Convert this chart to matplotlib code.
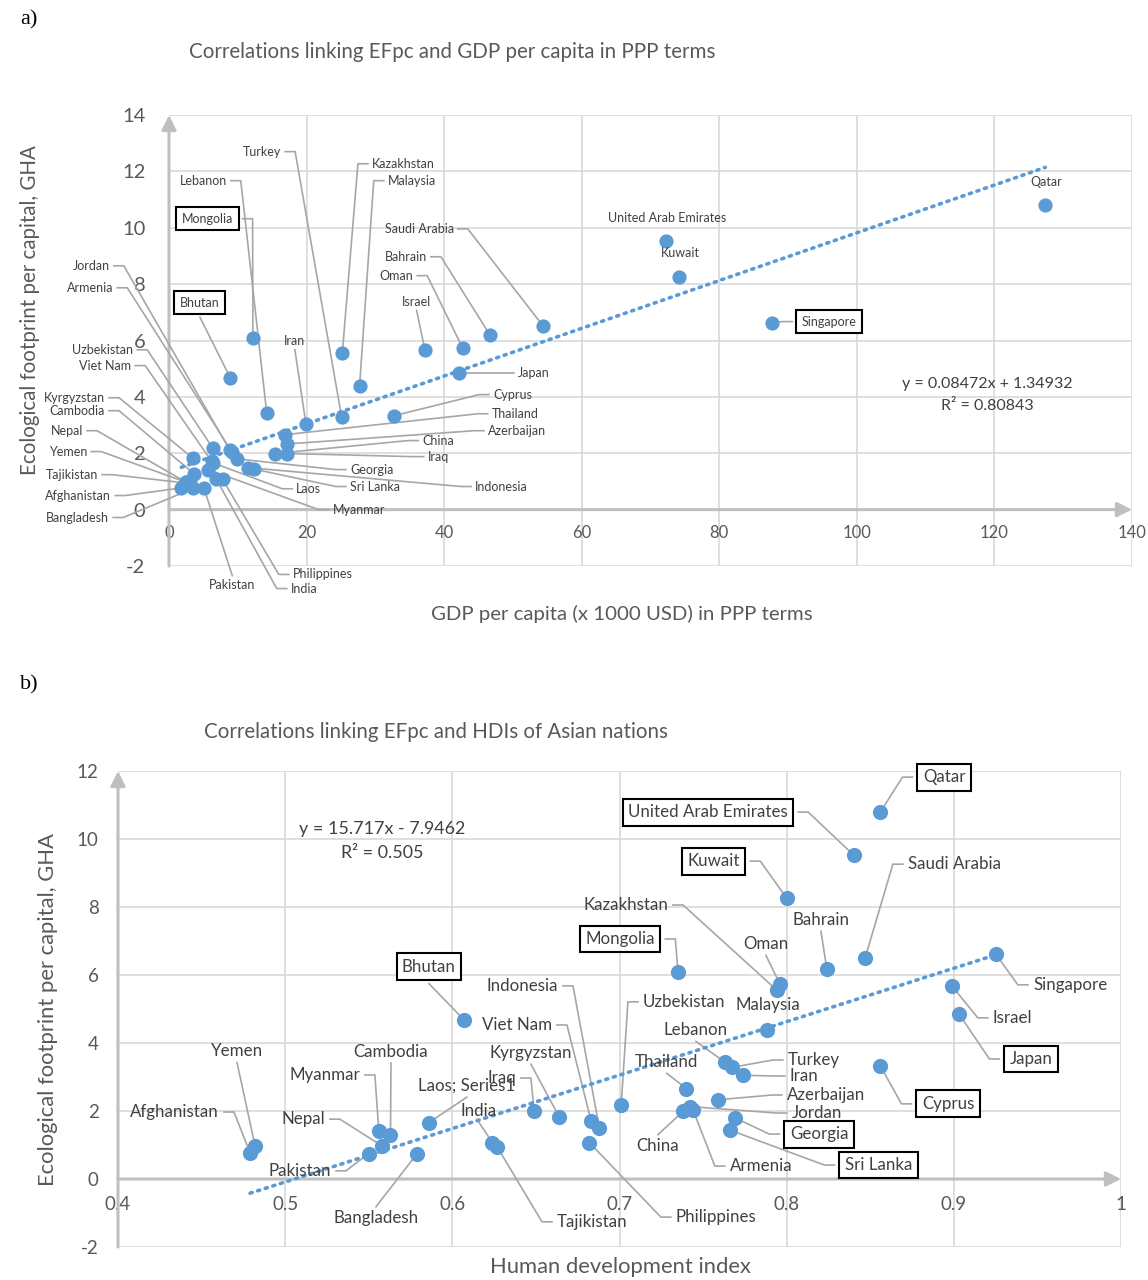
import matplotlib
matplotlib.use("Agg")
import matplotlib.pyplot as plt
import numpy as np

plt.rcParams["font.family"] = ["Lato", "DejaVu Sans"]
plt.rcParams["axes.unicode_minus"] = False

# Data (EF in GHA per capita, GDP in 1000 USD PPP, HDI)
countries = [
    "Afghanistan", "Armenia", "Azerbaijan", "Bahrain", "Bangladesh", "Bhutan",
    "Cambodia", "China", "Cyprus", "Georgia", "India", "Indonesia", "Iran",
    "Iraq", "Israel", "Japan", "Jordan", "Kazakhstan", "Kuwait", "Kyrgyzstan",
    "Laos", "Lebanon", "Malaysia", "Mongolia", "Myanmar", "Nepal", "Oman",
    "Pakistan", "Philippines", "Qatar", "Saudi Arabia", "Singapore",
    "Sri Lanka", "Tajikistan", "Thailand", "Turkey", "United Arab Emirates",
    "Uzbekistan", "Viet Nam", "Yemen",
]
ef_gha = [
    0.77, 2.03, 2.33, 6.18, 0.75, 4.68,
    1.28, 1.99, 3.33, 1.80, 1.07, 1.49, 3.05,
    1.99, 5.67, 4.86, 2.13, 5.56, 8.26, 1.82,
    1.66, 3.44, 4.37, 6.08, 1.42, 0.97, 5.73,
    0.75, 1.07, 10.79, 6.51, 6.62,
    1.44, 0.93, 2.66, 3.28, 9.53,
    2.17, 1.71, 0.97,
]
gdp_ppp = [
    1.8, 9.2, 17.2, 46.7, 3.5, 8.9,
    3.6, 15.4, 32.7, 9.9, 6.9, 11.5, 19.9,
    17.2, 37.2, 42.2, 8.8, 25.2, 74.2, 3.5,
    6.4, 14.2, 27.7, 12.2, 5.7, 2.5, 42.7,
    5.1, 7.8, 127.4, 54.4, 87.7,
    12.3, 3.0, 16.9, 25.1, 72.3,
    6.4, 6.2, 2.5,
]
hdi = [
    0.479, 0.744, 0.759, 0.824, 0.579, 0.607,
    0.563, 0.738, 0.856, 0.769, 0.624, 0.688, 0.774,
    0.649, 0.899, 0.903, 0.742, 0.794, 0.800, 0.664,
    0.586, 0.763, 0.788, 0.735, 0.556, 0.558, 0.796,
    0.550, 0.682, 0.856, 0.847, 0.925,
    0.766, 0.627, 0.740, 0.767, 0.840,
    0.701, 0.683, 0.482,
]

fit_gdp = (0.08472, 1.34932)
fit_hdi = (15.717, -7.9462)

# label layout: name -> (x, y, align, boxed, leader line)
labels_a = {
    "Jordan": (-8.6, 8.65, "right", False, True),
    "Armenia": (-8.1, 7.87, "right", False, True),
    "Uzbekistan": (-5.2, 5.67, "right", False, True),
    "Viet Nam": (-5.5, 5.11, "right", False, True),
    "Kyrgyzstan": (-9.3, 3.97, "right", False, True),
    "Cambodia": (-9.3, 3.51, "right", False, True),
    "Nepal": (-12.5, 2.80, "right", False, True),
    "Yemen": (-11.9, 2.06, "right", False, True),
    "Tajikistan": (-10.3, 1.24, "right", False, True),
    "Afghanistan": (-8.4, 0.50, "right", False, True),
    "Bangladesh": (-8.7, -0.28, "right", False, True),
    "Turkey": (16.3, 12.70, "right", False, True),
    "Lebanon": (8.4, 11.67, "right", False, True),
    "Mongolia": (9.3, 10.32, "right", True, True),
    "Bhutan": (4.5, 7.34, "center", True, True),
    "Iran": (18.3, 5.99, "center", False, True),
    "Kazakhstan": (29.5, 12.27, "left", False, True),
    "Malaysia": (31.8, 11.67, "left", False, True),
    "Saudi Arabia": (41.4, 9.96, "right", False, True),
    "Bahrain": (37.5, 8.97, "right", False, True),
    "Oman": (35.5, 8.30, "right", False, True),
    "Israel": (36.0, 7.38, "center", False, True),
    "United Arab Emirates": (72.4, 10.35, "center", False, False),
    "Kuwait": (74.3, 9.11, "center", False, False),
    "Qatar": (127.5, 11.63, "center", False, False),
    "Singapore": (92.0, 6.67, "left", True, True),
    "Japan": (50.7, 4.86, "left", False, True),
    "Cyprus": (47.1, 4.08, "left", False, True),
    "Thailand": (46.9, 3.40, "left", False, True),
    "Azerbaijan": (46.4, 2.80, "left", False, True),
    "China": (36.8, 2.45, "left", False, True),
    "Iraq": (37.6, 1.88, "left", False, True),
    "Georgia": (26.3, 1.42, "left", False, True),
    "Sri Lanka": (26.3, 0.82, "left", False, True),
    "Indonesia": (44.5, 0.82, "left", False, True),
    "Laos": (18.5, 0.74, "left", False, True),
    "Myanmar": (23.8, 0.0, "left", False, True),
    "Philippines": (18.0, -2.30, "left", False, True),
    "India": (17.7, -2.80, "left", False, True),
    "Pakistan": (9.2, -2.66, "center", False, True),
}

labels_b = {
    "Qatar": (0.8815, 11.82, "left", True, True),
    "United Arab Emirates": (0.8007, 10.79, "right", True, True),
    "Kuwait": (0.772, 9.35, "right", True, True),
    "Saudi Arabia": (0.8725, 9.26, "left", False, True),
    "Bahrain": (0.8205, 7.62, "center", False, True),
    "Oman": (0.7876, 6.91, "center", False, True),
    "Kazakhstan": (0.729, 8.06, "right", False, True),
    "Mongolia": (0.7212, 7.06, "right", True, True),
    "Malaysia": (0.7888, 5.12, "center", False, False),
    "Singapore": (0.9473, 5.71, "left", False, True),
    "Israel": (0.9233, 4.74, "left", False, True),
    "Japan": (0.9335, 3.53, "left", True, True),
    "Cyprus": (0.8809, 2.21, "left", True, True),
    "Bhutan": (0.586, 6.24, "center", True, True),
    "Indonesia": (0.6632, 5.68, "right", False, True),
    "Viet Nam": (0.6596, 4.53, "right", False, True),
    "Uzbekistan": (0.714, 5.21, "left", False, True),
    "Lebanon": (0.7457, 4.38, "center", False, True),
    "Kyrgyzstan": (0.647, 3.71, "center", False, True),
    "Thailand": (0.7283, 3.44, "center", False, True),
    "Turkey": (0.8007, 3.50, "left", False, True),
    "Iran": (0.8019, 3.03, "left", False, True),
    "Azerbaijan": (0.8001, 2.47, "left", False, True),
    "Jordan": (0.8031, 1.94, "left", False, True),
    "Georgia": (0.8019, 1.32, "left", True, True),
    "Sri Lanka": (0.8348, 0.41, "left", True, True),
    "Armenia": (0.766, 0.38, "left", False, True),
    "China": (0.723, 0.97, "center", False, True),
    "Philippines": (0.7337, -1.12, "left", False, True),
    "Tajikistan": (0.6626, -1.26, "left", False, True),
    "India": (0.6159, 2.0, "center", False, True),
    "Iraq": (0.638, 2.97, "right", False, True),
    "Laos": (0.6087, 2.74, "center", False, True),
    "Bangladesh": (0.5543, -1.15, "center", False, True),
    "Pakistan": (0.5274, 0.24, "right", False, True),
    "Nepal": (0.5238, 1.76, "right", False, True),
    "Myanmar": (0.5447, 3.06, "right", False, True),
    "Cambodia": (0.5633, 3.74, "center", False, True),
    "Yemen": (0.4712, 3.76, "center", False, True),
    "Afghanistan": (0.4604, 1.97, "right", False, True),
}
label_text_b = {"Laos": "Laos; Series1"}

BLUE = "#5B9BD5"
GRID = "#D9D9D9"
AXIS = "#BFBFBF"
LEADER = "#A6A6A6"
TXT = "#404040"
TICK = "#595959"
DPI = 100


def draw_labels(ax, xs, ys, layout, fs, pad, texts=None, stub=10, gap=4):
    to_disp = ax.transData.transform
    to_data = ax.transData.inverted().transform
    pad_px = pad * fs * DPI / 72
    for name, (tx, ty, ha, boxed, line) in layout.items():
        i = countries.index(name)
        txt = (texts or {}).get(name, name)
        box = None
        if boxed:
            box = dict(boxstyle=f"square,pad={pad}", fc="white", ec="black", lw=1.5)
        ax.text(tx, ty, txt, ha=ha, va="center", fontsize=fs, color=TXT,
                bbox=box, clip_on=False, zorder=5)
        if not line:
            continue
        ax_x, ax_y = to_disp((tx, ty))
        px, py = to_disp((xs[i], ys[i]))
        g = gap + (pad_px if boxed else 0)
        if ha == "right":
            pts = [(ax_x + g, ax_y), (ax_x + g + stub, ax_y), (px, py)]
        elif ha == "left":
            pts = [(ax_x - g, ax_y), (ax_x - g - stub, ax_y), (px, py)]
        else:
            h = fs * DPI / 72 * 0.55 + (pad_px if boxed else 0) + 2
            sign = -1 if py < ax_y else 1
            pts = [(ax_x, ax_y + sign * h), (px, py)]
        d = to_data(np.array(pts))
        ax.plot(d[:, 0], d[:, 1], color=LEADER, lw=1.2, clip_on=False, zorder=2)


def style_axes(ax, xlim, ylim, xticks, yticks, xfmt, fs_x, fs_y, pad_x, pad_y):
    ax.set_xlim(*xlim)
    ax.set_ylim(*ylim)
    ax.set_xticks(xticks)
    ax.set_yticks(yticks)
    ax.set_xticklabels([xfmt(v) for v in xticks])
    ax.spines["bottom"].set_position(("data", 0))
    for s in ax.spines.values():
        s.set_visible(False)
    ax.grid(True, color=GRID, lw=1.2, zorder=0)
    ax.set_axisbelow(True)
    ax.tick_params(axis="x", length=0, labelsize=fs_x, labelcolor=TICK, pad=pad_x)
    ax.tick_params(axis="y", length=0, labelsize=fs_y, labelcolor=TICK, pad=pad_y)
    arrow = dict(arrowstyle="-|>", color=AXIS, lw=2.2, mutation_scale=22,
                 shrinkA=0, shrinkB=0)
    ax.annotate("", xy=(xlim[1], 0), xytext=(xlim[0], 0), arrowprops=arrow,
                zorder=1, annotation_clip=False)
    ax.annotate("", xy=(xlim[0], ylim[1]), xytext=(xlim[0], ylim[0]),
                arrowprops=arrow, zorder=1, annotation_clip=False)


fig = plt.figure(figsize=(11.48, 12.8), dpi=DPI)
W, H = 1148, 1280

# ---- panel a ----
ax1 = fig.add_axes([169 / W, 1 - 566 / H, (1132 - 169) / W, (566 - 115) / H])
style_axes(ax1, (0, 140), (-2, 14), np.arange(0, 141, 20), np.arange(-2, 15, 2),
           lambda v: f"{v:g}", 12, 14.5, 11, 17)
xa = np.array([min(gdp_ppp), max(gdp_ppp)])
ax1.plot(xa, fit_gdp[0] * xa + fit_gdp[1], color=BLUE, lw=2.6,
         linestyle=(0, (0.6, 1.6)), dash_capstyle="round", zorder=3)
ax1.scatter(gdp_ppp, ef_gha, s=105, color=BLUE, zorder=4, linewidths=0)
draw_labels(ax1, gdp_ppp, ef_gha, labels_a, 9.0, 0.45)
ax1.text(119.0, 4.47, "y = 0.08472x + 1.34932", ha="center", va="center",
         fontsize=11.5, color=TXT)
ax1.text(119.0, 3.69, "R² = 0.80843", ha="center", va="center",
         fontsize=11.5, color=TXT)

fig.text(20 / W, 1 - 20 / H, "a)", family="Liberation Serif", fontsize=16,
         va="center", ha="left")
fig.text(452 / W, 1 - 52 / H, "Correlations linking EFpc and GDP per capita in PPP terms",
         ha="center", va="center", fontsize=14.8, color=TICK)
fig.text(30 / W, 1 - 310 / H, "Ecological footprint per capital, GHA", rotation=90,
         ha="center", va="center", fontsize=14.8, color=TICK)
fig.text(622 / W, 1 - 614 / H, "GDP per capita (x 1000 USD) in PPP terms",
         ha="center", va="center", fontsize=14.7, color=TICK)

# ---- panel b ----
ax2 = fig.add_axes([118 / W, 1 - 1247 / H, (1121 - 118) / W, (1247 - 771) / H])
style_axes(ax2, (0.4, 1.0), (-2, 12), np.round(np.arange(0.4, 1.01, 0.1), 1),
           np.arange(-2, 13, 2), lambda v: f"{v:g}", 13.5, 13.5, 12, 14)
xb = np.array([min(hdi), max(hdi)])
ax2.plot(xb, fit_hdi[0] * xb + fit_hdi[1], color=BLUE, lw=2.6,
         linestyle=(0, (0.6, 1.6)), dash_capstyle="round", zorder=3)
ax2.scatter(hdi, ef_gha, s=120, color=BLUE, zorder=4, linewidths=0)
draw_labels(ax2, hdi, ef_gha, labels_b, 12.2, 0.32, texts=label_text_b, gap=5)
ax2.text(0.5579, 10.29, "y = 15.717x - 7.9462", ha="center", va="center",
         fontsize=12.9, color=TXT)
ax2.text(0.5579, 9.59, "R² = 0.505", ha="center", va="center",
         fontsize=12.9, color=TXT)

fig.text(20 / W, 1 - 685 / H, "b)", family="Liberation Serif", fontsize=16,
         va="center", ha="left")
fig.text(436 / W, 1 - 732 / H, "Correlations linking EFpc and HDIs of Asian nations",
         ha="center", va="center", fontsize=14.8, color=TICK)
fig.text(48 / W, 1 - 1010 / H, "Ecological footprint per capital, GHA", rotation=90,
         ha="center", va="center", fontsize=15.8, color=TICK)
fig.text(620 / W, 1 - 1267 / H, "Human development index",
         ha="center", va="center", fontsize=15.8, color=TICK)

fig.savefig("out.png", dpi=DPI)
